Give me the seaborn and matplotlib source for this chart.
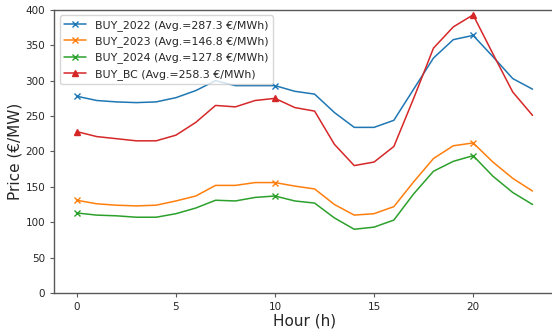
import matplotlib
matplotlib.use("Agg")
import matplotlib.pyplot as plt
import seaborn as sns
import pandas as pd
import numpy as np

hours = list(range(24))
buy_2022 = [278, 272, 270, 269, 270, 276, 286, 300, 293, 293, 293, 285,
            281, 255, 234, 234, 244, 288, 332, 358, 364, 334, 303, 288]
buy_2023 = [131, 126, 124, 123, 124, 130, 137, 152, 152, 156, 156, 151,
            147, 125, 110, 112, 122, 157, 190, 208, 212, 185, 162, 144]
buy_2024 = [113, 110, 109, 107, 107, 112, 120, 131, 130, 135, 137, 130,
            127, 106, 90, 93, 103, 140, 172, 186, 194, 165, 142, 125]
buy_bc = [228, 221, 218, 215, 215, 223, 241, 265, 263, 272, 275, 262,
          257, 210, 180, 185, 207, 275, 346, 376, 393, 338, 284, 251]
labels = ["BUY_2022 (Avg.=287.3 €/MWh)", "BUY_2023 (Avg.=146.8 €/MWh)",
          "BUY_2024 (Avg.=127.8 €/MWh)", "BUY_BC (Avg.=258.3 €/MWh)"]
colors = ["#1f77b4", "#ff7f0e", "#2ca02c", "#d62728"]
markers = ["x", "x", "x", "^"]

sns.set_style("white")
plt.rcParams["axes.edgecolor"] = "0.35"

fig = plt.figure(figsize=(5.52, 3.31), dpi=100)
ax = fig.add_axes([0.098, 0.115, 0.908, 0.855])

for series, lab, col, mk in zip([buy_2022, buy_2023, buy_2024, buy_bc], labels, colors, markers):
    df = pd.DataFrame({"Hour": hours, "Price": series})
    sns.lineplot(data=df, x="Hour", y="Price", ax=ax, color=col, marker=mk,
                 markevery=10, markersize=5, linewidth=1.1, label=lab,
                 markeredgecolor=col, markeredgewidth=1.0)

ax.set_ylim(0, 400)
ax.set_xlim(-1.15, 24.15)
ax.set_xticks([0, 5, 10, 15, 20])
ax.set_yticks(range(0, 401, 50))
ax.tick_params(axis="both", labelsize=7.5, length=3, width=0.8, color="0.35",
               bottom=True, left=True)
ax.set_xlabel("Hour (h)", fontsize=11, labelpad=1)
ax.set_ylabel("Price (€/MW)", fontsize=11, labelpad=2)
leg = ax.legend(loc="upper left", fontsize=7.9, frameon=True)
for s in ax.spines.values():
    s.set_linewidth(1.0)
ax.spines["right"].set_visible(False)

fig.savefig("out.png", dpi=100)
